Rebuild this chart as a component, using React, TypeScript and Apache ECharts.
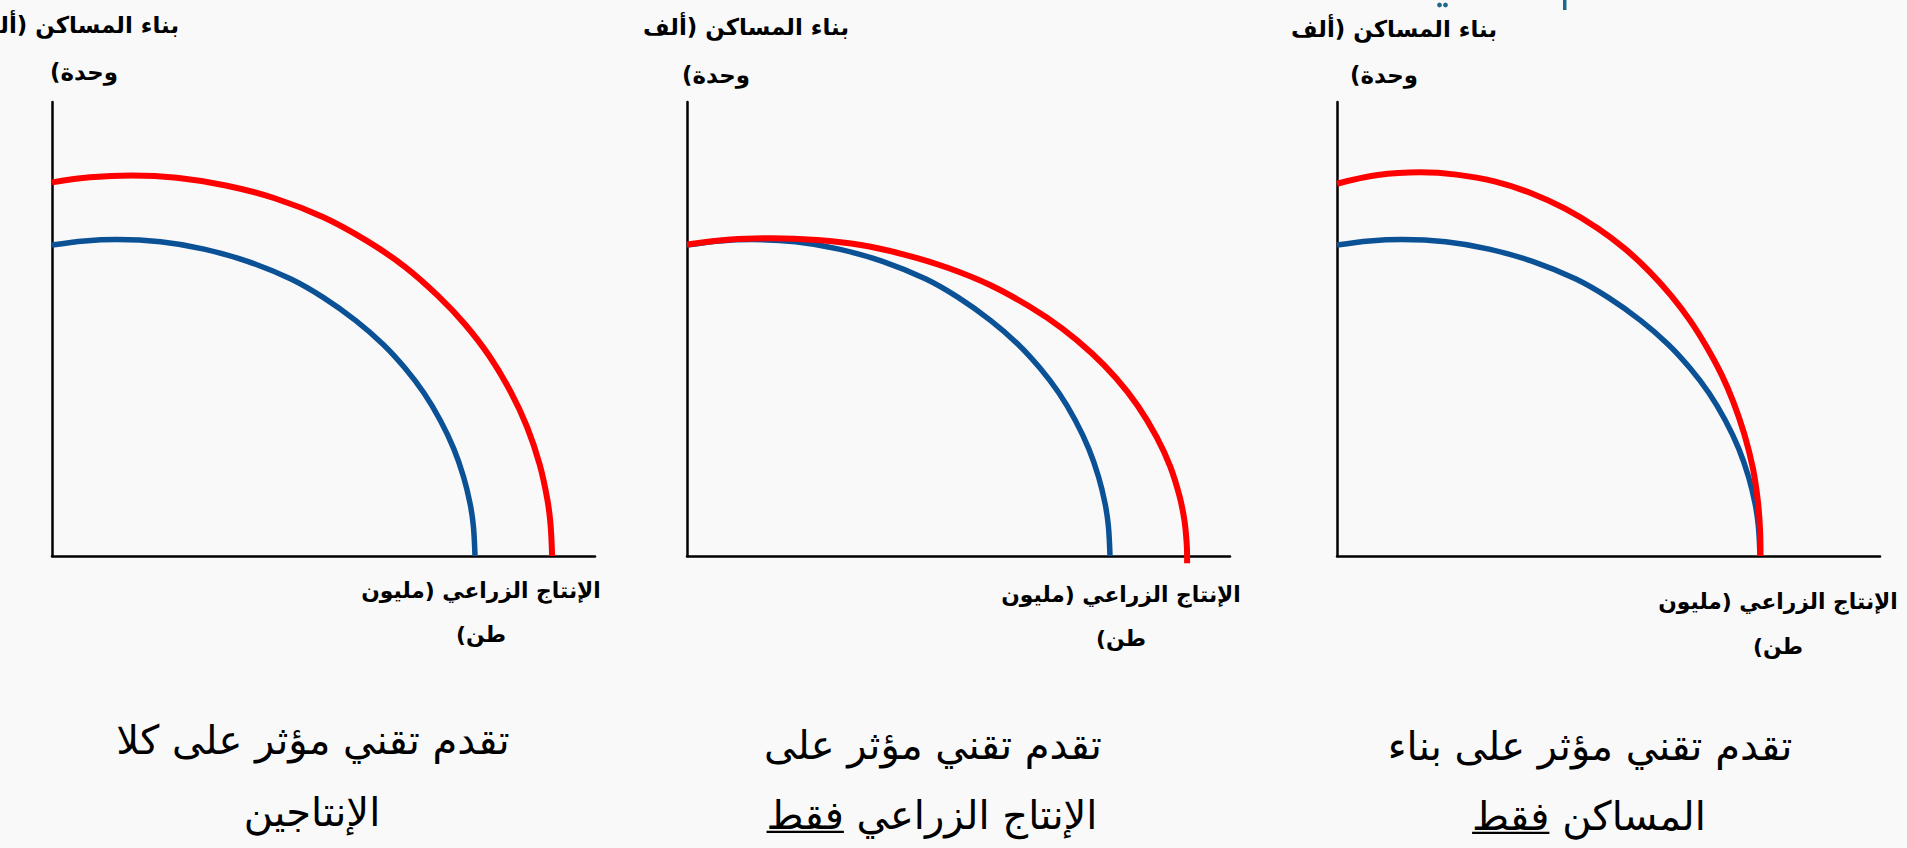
import React, { useEffect, useRef } from "react";
import * as echarts from "echarts";

// ---- data (x: agricultural output, y: housing construction; arbitrary units 0-100) ----
const X_MIN = 0;
const X_MAX = 100;
const Y_MIN = 0;
const Y_MAX = 100;

// original production possibilities frontier (same in all three panels)
const blueCurve: number[][] = [
  [0, 68.5], [6, 69.4], [12, 69.7], [20, 69.2], [28, 67.6], [36, 64.9], [44, 61.0],
  [50, 56.9], [56, 51.8], [61, 46.6], [65, 41.4], [68.5, 35.9], [71.5, 29.9],
  [74, 23.6], [75.8, 17.4], [77, 11.5], [77.6, 6.6], [77.9, 0],
];

// panel 1: progress affecting both products
const redCurveBoth: number[][] = [
  [0, 82.3], [7, 83.4], [14.7, 83.8], [23, 83.3], [32, 81.6], [41, 78.8], [50, 74.6],
  [58, 69.4], [65, 63.7], [71, 57.4], [76, 51.1], [80.5, 44.1], [84.5, 36.1],
  [87.5, 28.4], [89.8, 20.2], [91.2, 12.6], [91.8, 7.1], [92.1, 0],
];

// panel 2: progress affecting agriculture only
const redCurveAgri: number[][] = [
  [0, 68.6], [8, 69.7], [15.6, 70.0], [24, 69.6], [32, 68.5], [40, 66.4], [48, 63.5],
  [56, 59.6], [63, 55.0], [69, 50.2], [74.5, 44.7], [79, 39.2], [83, 33.1],
  [86.5, 26.2], [89, 19.7], [90.7, 13.2], [91.6, 7.9], [92.0, 3.2], [92.1, 0], [92.1, -1.6],
];

// panel 3: progress affecting housing only
const redCurveHousing: number[][] = [
  [0, 82.0], [7.5, 83.9], [15.3, 84.5], [22, 84.0], [29, 82.5], [36, 79.8], [42, 76.5],
  [48, 72.2], [53, 67.7], [57.5, 62.7], [61.5, 57.4], [65, 51.9], [68, 46.2],
  [70.8, 40.0], [73, 33.9], [75, 26.9], [76.6, 19.3], [77.5, 12.2], [77.9, 6.0], [78.0, 0],
];

const redCurves = [redCurveBoth, redCurveAgri, redCurveHousing];

const yLabelLine1 = "بناء المساكن (ألف";
const yLabelLine2 = "وحدة)";
const xLabelLine1 = "الإنتاج الزراعي (مليون";
const xLabelLine2 = "طن)";
const captionLines1 = ["تقدم تقني مؤثر على كلا", "تقدم تقني مؤثر على", "تقدم تقني مؤثر على بناء"];
const captionLines2 = ["الإنتاجين", "الإنتاج الزراعي فقط", "المساكن فقط"];
const underlinedWord = ["", "فقط", "فقط"];

// ---- layout ----
const FONT = "'DejaVu Sans', sans-serif";
const RLM = "\u200F";
const BLUE = "#0B5196";
const RED = "#FF0000";

const panels = [
  { left: 52, yl1Right: 179, yl1Y: 25, yl2: [84, 72], xl: [481, 590, 634], c1: [313, 740], c2: [312, 812] },
  { left: 687, yl1Right: 849, yl1Y: 27, yl2: [716, 75], xl: [1121, 594, 638], c1: [933, 745], c2: [932, 815] },
  { left: 1337, yl1Right: 1497, yl1Y: 29, yl2: [1384, 75], xl: [1778, 601, 646], c1: [1590, 746], c2: [1589, 816] },
];
const GRID_TOP = 102;
const GRID_W = 543;
const GRID_H = 454;

function measure(text: string, font: string): number {
  const c = document.createElement("canvas");
  const ctx = c.getContext("2d");
  if (!ctx) return 0;
  ctx.font = font;
  return ctx.measureText(text).width;
}

function fitSize(text: string, weight: string, target: number, base: number): number {
  const w = measure(text, `${weight} ${base}px ${FONT}`);
  if (!w) return base;
  return Math.round((base * target) / w * 10) / 10;
}

export default function App() {
  const ref = useRef<HTMLDivElement | null>(null);

  useEffect(() => {
    if (!ref.current) return;
    const chart = echarts.init(ref.current, undefined, { renderer: "svg" });

    const ySize = fitSize(yLabelLine1, "bold", 206, 24);
    const xSize = fitSize(xLabelLine1, "bold", 240, 24);
    const yFont = `bold ${ySize}px ${FONT}`;
    const xFont = `bold ${xSize}px ${FONT}`;
    const capSize = 40;
    const capFont = `normal ${capSize}px ${FONT}`;

    const text = (t: string, x: number, y: number, font: string, align = "center") => ({
      type: "text",
      x,
      y,
      silent: true,
      style: { text: t, font, fill: "#000", align, verticalAlign: "middle" },
    });

    const graphics: any[] = [];
    panels.forEach((p, i) => {
      graphics.push(text(yLabelLine1, p.yl1Right, p.yl1Y, yFont, "right"));
      graphics.push(text(yLabelLine2 + RLM, p.yl2[0], p.yl2[1], yFont));
      graphics.push(text(xLabelLine1, p.xl[0], p.xl[1], xFont));
      graphics.push(text(xLabelLine2 + RLM, p.xl[0], p.xl[2], xFont));
      graphics.push(text(captionLines1[i], p.c1[0], p.c1[1], capFont));
      graphics.push(text(captionLines2[i], p.c2[0], p.c2[1], capFont));
      if (underlinedWord[i]) {
        const wAll = measure(captionLines2[i], capFont);
        const wWord = measure(underlinedWord[i], capFont);
        const x0 = p.c2[0] - wAll / 2;
        const uy = p.c2[1] + capSize * 0.42;
        graphics.push({
          type: "line",
          silent: true,
          shape: { x1: x0, y1: uy, x2: x0 + wWord, y2: uy },
          style: { stroke: "#000", lineWidth: 2.2 },
        });
      }
    });
    // fragments of a cropped heading at the very top
    graphics.push({ type: "circle", shape: { cx: 1439.5, cy: 5, r: 2.4 }, style: { fill: "#1C6B86" } });
    graphics.push({ type: "circle", shape: { cx: 1445.5, cy: 5, r: 2.4 }, style: { fill: "#1C6B86" } });
    graphics.push({ type: "rect", shape: { x: 1563, y: 0, width: 3.5, height: 10 }, style: { fill: "#1C6B86" } });

    const axisCommon = {
      type: "value",
      axisLine: { show: true, onZero: false, lineStyle: { color: "#000", width: 2.5 } },
      axisTick: { show: false },
      axisLabel: { show: false },
      splitLine: { show: false },
    };

    const lineSeries = (i: number, data: number[][], color: string, width: number, z: number) => ({
      type: "line",
      xAxisIndex: i,
      yAxisIndex: i,
      data,
      smooth: 0.35,
      showSymbol: false,
      clip: false,
      z,
      lineStyle: { color, width, cap: "butt", join: "round" },
    });

    const option: any = {
      animation: false,
      backgroundColor: "#f9f9f9",
      grid: panels.map((p) => ({ left: p.left, top: GRID_TOP, width: GRID_W, height: GRID_H })),
      xAxis: panels.map((_, i) => ({ ...axisCommon, gridIndex: i, min: X_MIN, max: X_MAX })),
      yAxis: panels.map((_, i) => ({ ...axisCommon, gridIndex: i, min: Y_MIN, max: Y_MAX })),
      series: [
        ...panels.map((_, i) => lineSeries(i, blueCurve, BLUE, 5.5, 3)),
        ...panels.map((_, i) => lineSeries(i, redCurves[i], RED, 6, 4)),
      ],
      graphic: graphics,
    };

    chart.setOption(option);
    return () => chart.dispose();
  }, []);

  return (
    <div
      ref={ref}
      style={{ position: "fixed", left: 0, top: 0, width: 1907, height: 848 }}
    />
  );
}
